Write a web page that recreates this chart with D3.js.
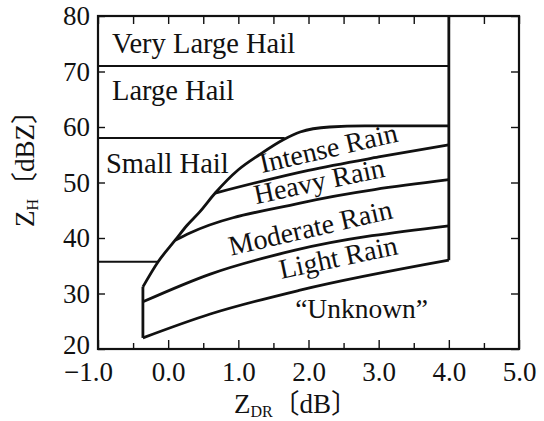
<!DOCTYPE html>
<html>
<head>
<meta charset="utf-8">
<script src="https://cdn.jsdelivr.net/npm/d3@7"></script>
<style>
  body { margin: 0; background: #fff; }
  svg text { font-family: "Liberation Serif", "Noto Sans CJK JP", serif; fill: #111; }
</style>
</head>
<body>
<svg id="chart" width="544" height="421"></svg>
<script>
// Z_DR (dB) on x, Z_H (dBZ) on y

// left / upper envelope of the rain zone
const envZdr = [-0.36, -0.15, 0.1, 0.27, 0.45, 0.67, 1.0, 1.3, 1.64, 1.88, 2.3, 2.8, 4.0];
const envZh  = [31.2, 35.6, 39.6, 42.3, 44.7, 48.1, 52.3, 55.0, 57.7, 59.1, 60.0, 60.2, 60.2];

// rain class boundaries
const intenseHeavyZdr = [0.67, 2.0, 3.0, 4.0];
const intenseHeavyZh  = [48.1, 52.2, 54.6, 56.8];
const heavyModZdr = [0.1, 0.31, 1.88, 4.0];
const heavyModZh  = [39.6, 40.9, 46.3, 50.5];
const modLightZdr = [-0.36, 0.6, 1.81, 4.0];
const modLightZh  = [28.5, 33.5, 37.8, 42.2];
const lightLowZdr = [-0.36, 0.6, 1.88, 4.0];
const lightLowZh  = [22.0, 26.3, 30.6, 36.0];

// hail thresholds (flat lines from the left axis)
const hailZh  = [71, 58, 35.7];
const hailEnd = [4.0, 1.66, -0.15];

const hailNames = ['Very Large Hail', 'Large Hail', 'Small Hail'];
const rainNames = ['Intense Rain', 'Heavy Rain', 'Moderate Rain', 'Light Rain'];
const otherName = '\u201cUnknown\u201d';

const xMajor = [-1, 0, 1, 2, 3, 4, 5];
const xMinor = [-0.5, 0.5, 1.5, 2.5, 3.5, 4.5];
const yMajor = [20, 30, 40, 50, 60, 70, 80];

const svg = d3.select('#chart');
const x = d3.scaleLinear().domain([-1, 5]).range([98, 519]);
const y = d3.scaleLinear().domain([20, 80]).range([349, 16]);

const line = d3.line().x(d => x(d[0])).y(d => y(d[1])).curve(d3.curveMonotoneX);
const zip = (a, b) => a.map((v, i) => [v, b[i]]);

// axes (inward ticks)
const fmt = d3.format('.1f');
svg.append('g')
  .attr('transform', `translate(0,${y(20)})`)
  .call(d3.axisBottom(x).tickValues(xMinor).tickSize(-6).tickFormat(''));
svg.append('g')
  .attr('class', 'xax')
  .attr('transform', `translate(0,${y(20)})`)
  .call(d3.axisBottom(x).tickValues(xMajor).tickSize(-9).tickPadding(13).tickFormat(fmt));
svg.append('g')
  .attr('transform', `translate(0,${y(80)})`)
  .call(d3.axisTop(x).tickValues(xMajor.concat(xMinor)).tickSize(-8).tickFormat(''));
svg.append('g')
  .attr('class', 'yax')
  .attr('transform', `translate(${x(-1)},0)`)
  .call(d3.axisLeft(y).tickValues(yMajor).tickSize(-7).tickPadding(8));
svg.append('g')
  .attr('transform', `translate(${x(5)},0)`)
  .call(d3.axisRight(y).tickValues(yMajor).tickSize(-8).tickFormat(''));

svg.selectAll('.domain').remove();
svg.selectAll('.tick line').attr('stroke', '#111').attr('stroke-width', 1.4);
svg.selectAll('.tick text').attr('font-size', 27).attr('fill', '#111')
  .style('font-family', '"Liberation Serif", serif');
svg.selectAll('.xax .tick text').attr('x', d => d < 0 ? -10 : 0);
svg.selectAll('.yax .tick text').attr('dy', d => d === 20 ? '0.18em' : '0.32em');

// frame
svg.append('rect')
  .attr('x', x(-1)).attr('y', y(80))
  .attr('width', x(5) - x(-1)).attr('height', y(20) - y(80))
  .attr('fill', 'none').attr('stroke', '#111').attr('stroke-width', 2.2);

// hail lines
svg.selectAll('.hail')
  .data(hailZh)
  .enter()
  .append('line')
  .attr('x1', x(-1)).attr('x2', (d, i) => x(hailEnd[i]))
  .attr('y1', d => y(d)).attr('y2', d => y(d))
  .attr('stroke', '#111').attr('stroke-width', 2);

// rain zone boundaries
const curves = [
  zip(envZdr, envZh),
  zip(intenseHeavyZdr, intenseHeavyZh),
  zip(heavyModZdr, heavyModZh),
  zip(modLightZdr, modLightZh),
  zip(lightLowZdr, lightLowZh),
  [[envZdr[0], envZh[0]], [lightLowZdr[0], lightLowZh[0]]],
  [[4.0, 80], [4.0, lightLowZh[lightLowZh.length - 1]]],
];
svg.selectAll('.bound')
  .data(curves)
  .enter()
  .append('path')
  .attr('d', line)
  .attr('fill', 'none')
  .attr('stroke', '#111')
  .attr('stroke-width', 2.8)
  .attr('stroke-linejoin', 'round');

// region labels
const hailPos = [[-0.8, 73.3], [-0.8, 64.9], [-0.886, 51.7]];
svg.selectAll('.hailLab')
  .data(hailNames)
  .enter()
  .append('text')
  .attr('x', (d, i) => x(hailPos[i][0]))
  .attr('y', (d, i) => y(hailPos[i][1]))
  .attr('font-size', 28.5)
  .text(d => d);

const rainPos = [[1.337, 51.7, -13], [1.25, 46.1, -12], [0.895, 36.8, -13], [1.61, 32.6, -12]];
svg.selectAll('.rainLab')
  .data(rainNames)
  .enter()
  .append('text')
  .attr('transform', (d, i) => `translate(${x(rainPos[i][0])},${y(rainPos[i][1])}) rotate(${rainPos[i][2]})`)
  .attr('font-size', 28)
  .text(d => d);

svg.append('text')
  .attr('x', x(1.81)).attr('y', y(25.6))
  .attr('font-size', 27.5)
  .text(otherName);

// axis titles
const xt = svg.append('text')
  .attr('x', 296).attr('y', 413)
  .attr('text-anchor', 'middle')
  .attr('font-size', 27);
xt.append('tspan').text('Z');
xt.append('tspan').attr('font-size', 16).attr('dy', 4).text('DR');
xt.append('tspan').attr('dy', -4).text('\u3014dB\u3015');

const yt = svg.append('text')
  .attr('transform', 'translate(34,162) rotate(-90)')
  .attr('text-anchor', 'middle')
  .attr('font-size', 27);
yt.append('tspan').text('Z');
yt.append('tspan').attr('font-size', 16).attr('dy', 4).text('H');
yt.append('tspan').attr('dy', -4).text('\u3014dBZ\u3015');
</script>
</body>
</html>
